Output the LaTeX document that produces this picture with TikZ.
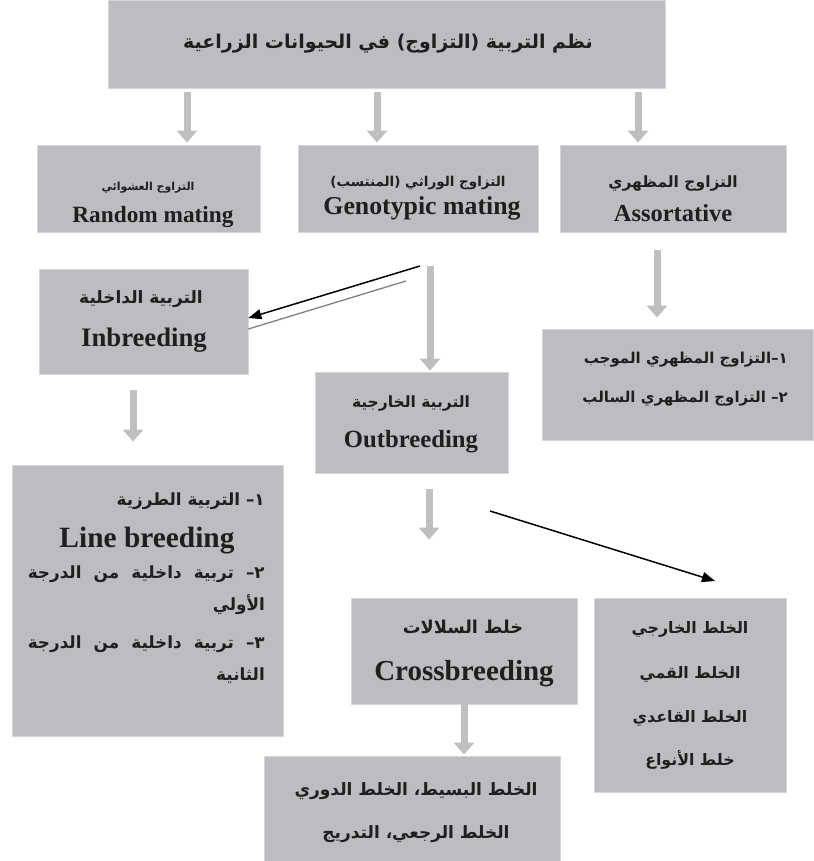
\documentclass[tikz,border=0pt]{standalone}
\usepackage{fontspec}
\setmainfont{Liberation Serif}
\newfontfamily\arabicfont[Script=Arabic]{DejaVu Sans}
\TeXXeTstate=1
\usetikzlibrary{arrows.meta,calc}
\definecolor{boxgray}{RGB}{188,189,192}
\definecolor{arrgray}{RGB}{191,191,193}
\definecolor{edgegray}{RGB}{215,215,217}
\newcommand{\arf}[1]{\arabicfont\bfseries\fontsize{#1}{#1}\selectfont}
\newcommand{\enf}[1]{\bfseries\fontsize{#1}{#1}\selectfont}
\begin{document}
\begin{tikzpicture}[x=1pt,y=-1pt,
  box/.style={fill=boxgray, draw=edgegray, line width=0.8pt, inner sep=0pt},
  garrow/.style={draw=arrgray, line width=7pt, -{Triangle[width=20pt,length=12pt]}},
  barrow/.style={draw=black, line width=1.5pt, -{Triangle[width=10pt,length=13pt]}},
  txt/.style={inner sep=0pt, anchor=base, text=black!88},
  rtxt/.style={inner sep=0pt, anchor=base east, text=black!88}
]
\useasboundingbox (0,0) rectangle (813,861);

% boxes
\node[box, minimum width=557pt, minimum height=88pt] (title) at (386.5,44) {};
\node[box, minimum width=223pt, minimum height=87pt] (rand) at (148.5,188.5) {};
\node[box, minimum width=240pt, minimum height=87pt] (geno) at (418,188.5) {};
\node[box, minimum width=226pt, minimum height=87pt] (asso) at (673,188.5) {};
\node[box, minimum width=209pt, minimum height=105pt] (inb) at (143.5,321.5) {};
\node[box, minimum width=193pt, minimum height=101pt] (out) at (411.5,422.5) {};
\node[box, minimum width=271pt, minimum height=111pt] (alist) at (677.5,384.5) {};
\node[box, minimum width=271pt, minimum height=271pt] (lb) at (147.5,600.5) {};
\node[box, minimum width=226pt, minimum height=106pt] (cross) at (464,651) {};
\node[box, minimum width=192pt, minimum height=194pt] (rbox) at (690,695) {};
\node[box, minimum width=296pt, minimum height=105pt] (bot) at (412,808.5) {};

% texts
\node[txt] (titleT) at (388,49) {\arf{19}\beginR نظم التربية (التزاوج) في الحيوانات الزراعية\endR};

\node[txt] (randA) at (148,190) {\arf{11}\beginR التزاوج العشوائي\endR};
\node[txt] (randE) at (153,222) {\enf{23.3}Random mating};
\node[txt] (genoA) at (418,186) {\arf{13.5}\beginR التزاوج الوراثي (المنتسب)\endR};
\node[txt] (genoE) at (422,214) {\enf{25.8}Genotypic mating};
\node[txt] (assoA) at (673,187) {\arf{15.5}\beginR التزاوج المظهري\endR};
\node[txt] (assoE) at (673,221) {\enf{24.5}Assortative};

\node[txt] (inbA) at (141,303) {\arf{17}\beginR التربية الداخلية\endR};
\node[txt] (inbE) at (144,346) {\enf{26.7}Inbreeding};
\node[txt] (outA) at (411,407) {\arf{15.5}\beginR التربية الخارجية\endR};
\node[txt] (outE) at (411,447) {\enf{24.7}Outbreeding};

\node[rtxt] (al1) at (788,363) {\arf{15}\beginR ١–التزاوج المظهري الموجب\endR};
\node[rtxt] (al2) at (788,402) {\arf{15}\beginR ٢– التزاوج المظهري السالب\endR};

\node[rtxt] (lb1) at (265,505) {\arf{16.8}\beginR ١– التربية الطرزية\endR};
\node[txt] (lb2) at (147,547) {\enf{29.4}Line breeding};
\node[rtxt] (lb3) at (265,578) {\arf{16.8}\hbox to 237pt{\beginR ٢–\hfil\ تربية\hfil\ داخلية\hfil\ من\hfil\ الدرجة\endR}};
\node[rtxt] (lb4) at (265,610) {\arf{16.8}\beginR الأولي\endR};
\node[rtxt] (lb5) at (265,648) {\arf{16.8}\hbox to 237pt{\beginR ٣–\hfil\ تربية\hfil\ داخلية\hfil\ من\hfil\ الدرجة\endR}};
\node[rtxt] (lb6) at (265,680) {\arf{16.8}\beginR الثانية\endR};

\node[txt] (crossA) at (463,633) {\arf{17.7}\beginR خلط السلالات\endR};
\node[txt] (crossE) at (464,680) {\enf{29}Crossbreeding};

\node[txt] (r1) at (690,633) {\arf{15.8}\beginR الخلط الخارجي\endR};
\node[txt] (r2) at (690,678) {\arf{15.8}\beginR الخلط القمي\endR};
\node[txt] (r3) at (690,722) {\arf{15.8}\beginR الخلط القاعدي\endR};
\node[txt] (r4) at (690,765) {\arf{15.8}\beginR خلط الأنواع\endR};

\node[txt] (b1) at (416,795) {\arf{17}\beginR الخلط البسيط، الخلط الدوري\endR};
\node[txt] (b2) at (416,838) {\arf{17}\beginR الخلط الرجعي، التدريج\endR};

% arrow x positions
\coordinate (x1) at (187,0);
\coordinate (x2) at (377,0);
\coordinate (x3) at (638,0);
\coordinate (x4) at (657,0);
\coordinate (x5) at (430,0);
\coordinate (x6) at (133,0);
\coordinate (x7) at (429,0);
\coordinate (x8) at (464,0);

% gray arrows
\draw[garrow, shorten <=4pt, shorten >=2pt] (title.south -| x1) -- (rand.north -| x1);
\draw[garrow, shorten <=4pt, shorten >=2pt] (title.south -| x2) -- (geno.north -| x2);
\draw[garrow, shorten <=4pt, shorten >=2pt] (title.south -| x3) -- (asso.north -| x3);
\draw[garrow, shorten <=18pt, shorten >=11pt] (asso.south -| x4) -- (alist.north -| x4);
\draw[garrow, shorten <=34pt, shorten >=1pt] (geno.south -| x5) -- (out.north -| x5);
\draw[garrow, shorten <=16pt, shorten >=23pt] (inb.south -| x6) -- (lb.north -| x6);
\draw[garrow, shorten <=16pt, shorten >=58pt] (out.south -| x7) -- (cross.north -| x7);
\draw[garrow, shorten <=0pt, shorten >=1pt] (cross.south -| x8) -- (bot.north -| x8);

% black arrows
\coordinate (gs) at (420,266);
\coordinate (gs2) at (406,281);
\coordinate (os) at (490,511);
\coordinate (re) at (715,581);
\draw[barrow] (gs) -- ([yshift=3.5pt]inb.east);
\draw[draw=gray, line width=1.3pt] (gs2) -- ([yshift=-7.5pt]inb.east);
\draw[barrow] (os) -- (re);
\end{tikzpicture}
\end{document}
